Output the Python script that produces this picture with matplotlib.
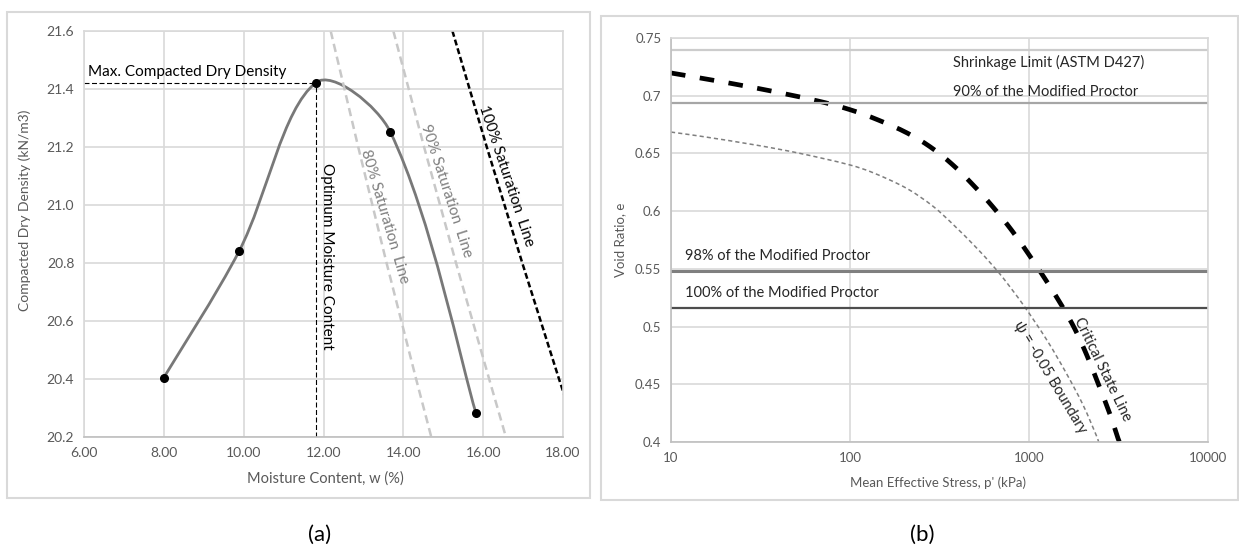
import matplotlib
matplotlib.use("Agg")
import matplotlib.pyplot as plt
import numpy as np
from matplotlib.path import Path
from matplotlib.patches import PathPatch, Rectangle

plt.rcParams["font.family"] = ["Lato", "DejaVu Sans"]
plt.rcParams["lines.scale_dashes"] = False

# ---- (a) compaction curve ----
moisture = [8.0, 9.89, 11.81, 13.67, 15.82]
dry_density = [20.405, 20.842, 21.422, 21.253, 20.282]
w_opt = 11.81
gd_max = 21.422

sat_gamma = [21.6, 21.2, 20.8, 20.4, 20.2]
sat80_w = [12.18, 12.87, 13.58, 14.32, 14.70]
sat90_w = [13.75, 14.52, 15.32, 16.15, 16.57]
sat100_gamma = [21.6, 21.2, 20.8, 20.4, 20.3]
sat100_w = [15.23, 16.09, 16.98, 17.90, 18.14]

xticks_a = [6, 8, 10, 12, 14, 16, 18]
yticks_a = [20.2, 20.4, 20.6, 20.8, 21.0, 21.2, 21.4, 21.6]

# ---- (b) void ratio vs mean effective stress ----
csl_p = [10, 14.5, 30.2, 65.5, 100, 143, 208, 280, 372, 487, 629, 804, 986,
         1227, 1528, 1806, 2109, 2429, 2836, 3143, 3200]
csl_e = [0.7197, 0.7154, 0.7065, 0.6956, 0.6879, 0.6791, 0.6678, 0.6558, 0.6406,
         0.6227, 0.6036, 0.5830, 0.5636, 0.5415, 0.5179, 0.4977, 0.4748, 0.4510,
         0.4239, 0.4031, 0.400]
psi_p = [10, 14.5, 30.2, 52.7, 100, 134, 208, 291, 376, 512, 629, 716, 925,
         1262, 1630, 2004, 2399, 2450]
psi_e = [0.6685, 0.6650, 0.6571, 0.6500, 0.6400, 0.6334, 0.6196, 0.6042, 0.5886,
         0.5678, 0.5526, 0.5422, 0.5192, 0.4880, 0.4585, 0.4321, 0.4042, 0.400]

e_shrinkage = 0.7396
e_proctor90 = 0.6937
e_proctor98 = 0.5481
e_proctor100 = 0.516

xticks_b = [10, 100, 1000, 10000]
xticklabels_b = ["10", "100", "1000", "10000"]
yticks_b = [0.4, 0.45, 0.5, 0.55, 0.6, 0.65, 0.7, 0.75]
yticklabels_b = ["0.4", "0.45", "0.5", "0.55", "0.6", "0.65", "0.7", "0.75"]

W, H = 1239, 549
GRID = "#d9d9d9"
TICK = "#595959"


def rect(x0, y0, x1, y1):
    # pixel box (top-left origin) -> figure fraction
    return [x0 / W, (H - y1) / H, (x1 - x0) / W, (y1 - y0) / H]


def smooth_line(ax, xs, ys, **kw):
    # excel-like smoothed line, bezier built in screen space
    pts = ax.transData.transform(np.column_stack([xs, ys]))
    n = len(pts)
    verts = [pts[0]]
    codes = [Path.MOVETO]
    for i in range(n - 1):
        p0, p1 = pts[i], pts[i + 1]
        pm = pts[i - 1] if i > 0 else p0
        pp = pts[i + 2] if i + 2 < n else p1
        d01 = np.hypot(*(p0 - pm))
        d12 = np.hypot(*(p1 - p0))
        d23 = np.hypot(*(pp - p1))
        c1 = p0 + (p1 - pm) / 3 * (d12 / (d01 + d12) if d01 > 0 else 0.5)
        c2 = p1 - (pp - p0) / 3 * (d12 / (d12 + d23) if d23 > 0 else 0.5)
        verts += [c1, c2, p1]
        codes += [Path.CURVE4] * 3
    verts = ax.transData.inverted().transform(np.array(verts))
    patch = PathPatch(Path(verts, codes), fill=False, **kw)
    ax.add_patch(patch)
    return patch


def style_axes(ax):
    ax.grid(True, color=GRID, lw=1.2)
    ax.set_axisbelow(True)
    for s in ax.spines.values():
        s.set_color(GRID)
        s.set_linewidth(1.2)
    ax.spines["bottom"].set_color("#bfbfbf")
    ax.tick_params(length=0, colors=TICK, labelsize=10, pad=7)


fig = plt.figure(figsize=(W / 100, H / 100), dpi=100)

# outer chart frames
fig.patches.append(Rectangle((7 / W, (H - 498) / H), (590 - 7) / W, (498 - 12) / H,
                             transform=fig.transFigure, fill=False, ec=GRID, lw=1.5))
fig.patches.append(Rectangle((601 / W, (H - 500) / H), (1238 - 601) / W, (500 - 16) / H,
                             transform=fig.transFigure, fill=False, ec=GRID, lw=1.5))

# ---------------- panel (a) ----------------
ax1 = fig.add_axes(rect(84, 31, 563, 437))
style_axes(ax1)
ax1.set_xlim(6, 18)
ax1.set_ylim(20.2, 21.6)
ax1.set_xticks(xticks_a)
ax1.set_xticklabels([f"{v:.2f}" for v in xticks_a])
ax1.set_yticks(yticks_a)
ax1.set_yticklabels([f"{v:.1f}" for v in yticks_a])

ax1.plot(sat80_w, sat_gamma, color="#c8c8c8", lw=1.8, dashes=(6, 3.5))
ax1.plot(sat90_w, sat_gamma, color="#c8c8c8", lw=1.8, dashes=(6, 3.5))
ax1.plot(sat100_w, sat100_gamma, color="black", lw=1.8, dashes=(4.3, 2.2))

ax1.plot([6, w_opt], [gd_max, gd_max], color="black", lw=0.8, dashes=(3.6, 1.8))
ax1.plot([w_opt, w_opt], [20.2, gd_max], color="black", lw=0.8, dashes=(3.6, 1.8))

smooth_line(ax1, moisture, dry_density, ec="#787878", lw=2.0)
ax1.plot(moisture, dry_density, "o", color="black", ms=5.5, zorder=5)

ax1.text(6.09, gd_max + 0.012, "Max. Compacted Dry Density", fontsize=11,
         ha="left", va="bottom")
ax1.text(12.09, 20.824, "Optimum Moisture Content", fontsize=11, rotation=-90,
         ha="center", va="center")
ax1.text(13.54, 20.96, "80% Saturation  Line", fontsize=11, color="#7f7f7f",
         rotation=-73.5, ha="center", va="center", rotation_mode="anchor")
ax1.text(15.07, 21.05, "90% Saturation  Line", fontsize=11, color="#7f7f7f",
         rotation=-72, ha="center", va="center", rotation_mode="anchor")
ax1.text(16.57, 21.10, "100% Saturation  Line", fontsize=11, color="black",
         rotation=-71.6, ha="center", va="center", rotation_mode="anchor")

fig.text(25 / W, 1 - 210 / H, "Compacted Dry Density (kN/m3)", rotation=90,
         ha="center", va="center", fontsize=10, color=TICK)
fig.text(325 / W, 1 - 479 / H, "Moisture Content, w (%)", ha="center",
         va="center", fontsize=10.5, color=TICK)

# ---------------- panel (b) ----------------
ax2 = fig.add_axes(rect(671, 38, 1208, 442))
style_axes(ax2)
ax2.set_xscale("log")
ax2.set_xlim(10, 10000)
ax2.set_ylim(0.4, 0.75)
ax2.set_xticks(xticks_b)
ax2.set_xticklabels(xticklabels_b)
ax2.xaxis.set_minor_locator(matplotlib.ticker.NullLocator())
ax2.set_yticks(yticks_b)
ax2.set_yticklabels(yticklabels_b)
ax2.tick_params(labelsize=9.5)
ax2.spines["left"].set_color("#bfbfbf")

ax2.axhline(e_shrinkage, color="#cccccc", lw=1.6)
ax2.axhline(e_proctor90, color="#a6a6a6", lw=1.6)
ax2.axhline(e_proctor98, color="#7f7f7f", lw=2.2)
ax2.axhline(e_proctor100, color="#4d4d4d", lw=1.6)

psi = smooth_line(ax2, psi_p, psi_e, ec="#7f7f7f", lw=1.1)
psi.set_linestyle((0, (3, 2.2)))
csl = smooth_line(ax2, csl_p, csl_e, ec="black", lw=3.4)
csl.set_linestyle((0, (10.5, 10.5)))

ax2.text(376, 0.729, "Shrinkage Limit (ASTM D427)", fontsize=10.5,
         ha="left", va="center", color="#262626")
ax2.text(376, 0.703, "90% of the Modified Proctor", fontsize=10.5,
         ha="left", va="center", color="#262626")
ax2.text(11.97, 0.561, "98% of the Modified Proctor", fontsize=10.5,
         ha="left", va="center", color="#262626")
ax2.text(11.97, 0.529, "100% of the Modified Proctor", fontsize=10.5,
         ha="left", va="center", color="#262626")
ax2.text(1309, 0.4562, "ψ = -0.05 Boundary", fontsize=10.5, rotation=-59,
         ha="center", va="center", rotation_mode="anchor", color="#262626")
ax2.text(2560, 0.463, "Critical State Line", fontsize=10.5, rotation=-64,
         ha="center", va="center", rotation_mode="anchor", color="#262626")

fig.text(620 / W, 1 - 240 / H, "Void Ratio, e", rotation=90, ha="center",
         va="center", fontsize=9.5, color=TICK)
fig.text(938 / W, 1 - 483 / H, "Mean Effective Stress, p' (kPa)", ha="center",
         va="center", fontsize=9.5, color=TICK)

fig.text(320 / W, 1 - 535 / H, "(a)", ha="center", va="center", fontsize=16)
fig.text(922 / W, 1 - 535 / H, "(b)", ha="center", va="center", fontsize=16)

fig.savefig("out.png", dpi=100)
